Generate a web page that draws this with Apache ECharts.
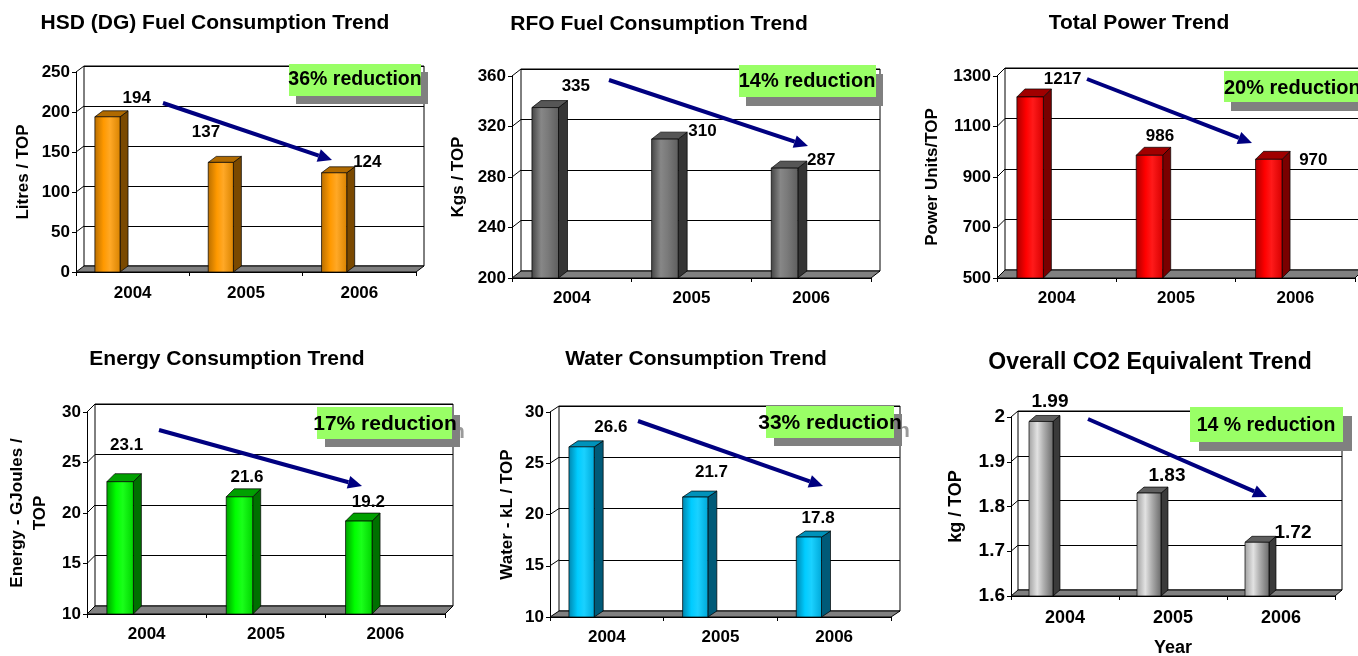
<!DOCTYPE html>
<html><head><meta charset="utf-8">
<script src="https://cdn.jsdelivr.net/npm/echarts@6/dist/echarts.min.js"></script>
<style>html,body{margin:0;padding:0;background:#fff}#c{width:1358px;height:656px}</style>
</head><body><div id="c"></div><script>
// ---------- data ----------
const years = ['2004', '2005', '2006'];
const hsdValues = [194, 137, 124];
const rfoValues = [335, 310, 287];
const powerValues = [1217, 986, 970];
const energyValues = [23.1, 21.6, 19.2];
const waterValues = [26.6, 21.7, 17.8];
const co2Values = [1.99, 1.83, 1.72];
const titles = ['HSD (DG) Fuel Consumption Trend', 'RFO Fuel Consumption Trend', 'Total Power Trend',
  'Energy Consumption Trend', 'Water Consumption Trend', 'Overall CO2 Equivalent Trend'];
const yNames = ['Litres / TOP', 'Kgs / TOP', 'Power Units/TOP', 'Energy - GJoules /\nTOP', 'Water - kL / TOP', 'kg / TOP'];
const reductions = ['36% reduction', '14% reduction', '20% reduction', '17% reduction', '33% reduction', '14 % reduction'];
const axisRanges = [[0, 250, 50], [200, 360, 40], [500, 1300, 200], [10, 30, 5], [10, 30, 5], [1.6, 2, 0.1]];
const co2XName = 'Year';

// ---------- styles / layout ----------
const FONT = '"Liberation Sans", Arial, sans-serif';
const palettes = {
  orange: { front: ['#B86E00', '#FF9900', '#FFA826', '#D98300'], side: '#7A4900', top: '#B06A00' },
  grey:   { front: ['#444444', '#878787', '#7A7A7A', '#5E5E5E'], side: '#353535', top: '#565656' },
  red:    { front: ['#A80000', '#FF0000', '#FF1A1A', '#D60000'], side: '#7A0000', top: '#A00000' },
  green:  { front: ['#009E00', '#00FF00', '#1AFF1A', '#00D400'], side: '#007000', top: '#00A000' },
  cyan:   { front: ['#0086AE', '#00CCFF', '#1AD1FF', '#00A8D8'], side: '#005A78', top: '#0092BA' },
  silver: { front: ['#A0A0A0', '#E2E2E2', '#B0B0B0', '#6A6A6A'], side: '#3A3A3A', top: '#5F5F5F' }
};

const panels = [
  { values: hsdValues, range: axisRanges[0], pal: palettes.orange, grid: [76, 72, 340, 200], depth: [8, -6],
    titlePos: [215, 13], titleSize: 21, tickSize: 17, catSize: 17, labelSize: 17, nameSize: 17, nameGap: 41, catMargin: 13,
    labelOff: [[4, -18], [-40, -30], [8, -10]],
    box: [289, 64, 132, 32], shadow: [7, 8], boxFont: 19.5, boxText: [355, 80, 'center'], arrow: [163, 103, 332, 160] },
  { values: rfoValues, range: axisRanges[1], pal: palettes.grey, grid: [512, 76, 359, 202], depth: [9, -7],
    titlePos: [659, 14], titleSize: 21, tickSize: 17, catSize: 17, labelSize: 17, nameSize: 17, nameGap: 42, catMargin: 12,
    labelOff: [[4, -21], [11, -8], [10, -8]],
    box: [739, 65, 137, 32], shadow: [7, 9], boxFont: 20, boxText: [807, 81, 'center'], arrow: [609, 80, 808, 146] },
  { values: powerValues, range: axisRanges[2], pal: palettes.red, grid: [997, 76, 358, 202], depth: [8, -8],
    titlePos: [1139, 13], titleSize: 21, tickSize: 17, catSize: 17, labelSize: 17, nameSize: 17, nameGap: 53, catMargin: 12,
    labelOff: [[6, -18], [-16, -19], [18, 1]],
    box: [1224, 71, 150, 31], shadow: [7, 9], boxFont: 20, boxText: [1224, 88, 'left'], arrow: [1087, 79, 1252, 143] },
  { values: energyValues, range: axisRanges[3], pal: palettes.green, grid: [87, 412, 358, 202], depth: [8, -8],
    titlePos: [227, 349], titleSize: 21, tickSize: 17, catSize: 17, labelSize: 17, nameSize: 17, nameGap: 35, catMargin: 12,
    labelOff: [[-20, -36], [-19, -20], [-17, -19]],
    box: [317, 407, 135, 32], shadow: [8, 8], boxFont: 21, boxText: [385, 424, 'center'], arrow: [159, 430, 362, 486] },
  { values: waterValues, range: axisRanges[4], pal: palettes.cyan, grid: [550, 412, 341, 205], depth: [9, -6],
    titlePos: [696, 349], titleSize: 21, tickSize: 17, catSize: 17, labelSize: 17, nameSize: 17, nameGap: 31, catMargin: 12,
    labelOff: [[4, -20], [-9, -25], [-16, -19]],
    box: [766, 406, 128, 32], shadow: [8, 8], boxFont: 21, boxText: [830, 423, 'center'], arrow: [638, 421, 823, 486] },
  { values: co2Values, range: axisRanges[5], pal: palettes.silver, grid: [1011, 417, 324, 179], depth: [7, -6],
    titlePos: [1150, 351], titleSize: 23, tickSize: 19, catSize: 18, labelSize: 19, nameSize: 18, nameGap: 43, catMargin: 13,
    labelOff: [[-15, -20], [-6, -17], [12, -10]], xName: co2XName,
    box: [1190, 407, 153, 35], shadow: [9, 9], boxFont: 19.5, boxText: [1266, 426, 'center'], arrow: [1088, 419, 1267, 497] }
];

const option = { animation: false, backgroundColor: '#fff', title: [], grid: [], xAxis: [], yAxis: [], series: [], graphic: [] };
const txt = (size) => ({ color: '#000', fontWeight: 'bold', fontSize: size, fontFamily: FONT });
const plainNum = (v) => String(+(+v).toFixed(6));

panels.forEach((p, pi) => {
  const [L, T, W, H] = p.grid;
  const [dx, dy] = p.depth;
  const [mn, mx, iv] = p.range;
  const gi = option.grid.length;

  option.title.push({ text: titles[pi], left: p.titlePos[0], top: p.titlePos[1], textAlign: 'center', padding: 0,
    textStyle: txt(p.titleSize) });

  // back wall grid (gridlines)
  option.grid.push({ left: L + dx, top: T + dy, width: W, height: H, show: true, borderColor: '#000', borderWidth: 1,
    backgroundColor: 'transparent', containLabel: false, outerBoundsMode: 'none' });
  option.xAxis.push({ gridIndex: gi, type: 'category', data: years, show: false });
  option.yAxis.push({ gridIndex: gi, type: 'value', min: mn, max: mx, interval: iv, axisLine: { show: false },
    axisTick: { show: false }, axisLabel: { show: false }, splitLine: { show: true, lineStyle: { color: '#000', width: 1 } } });

  // front grid (axes)
  option.grid.push({ left: L, top: T, width: W, height: H, containLabel: false, outerBoundsMode: 'none' });
  option.xAxis.push({ gridIndex: gi + 1, type: 'category', data: years, boundaryGap: true,
    axisLine: { show: true, lineStyle: { color: '#000', width: 1 } },
    axisTick: { show: true, length: 4, alignWithLabel: false, lineStyle: { color: '#000' } },
    axisLabel: Object.assign(txt(p.catSize), { margin: p.catMargin, interval: 0 }), splitLine: { show: false },
    name: p.xName || '', nameLocation: 'middle', nameGap: 43, nameTextStyle: txt(18) });
  option.yAxis.push({ gridIndex: gi + 1, type: 'value', min: mn, max: mx, interval: iv,
    axisLine: { show: true, lineStyle: { color: '#000', width: 1 } },
    axisTick: { show: true, length: 4, lineStyle: { color: '#000' } },
    axisLabel: Object.assign(txt(p.tickSize), { margin: 6, formatter: plainNum }), splitLine: { show: false },
    name: yNames[pi], nameLocation: 'middle', nameGap: p.nameGap,
    nameTextStyle: Object.assign(txt(p.nameSize), { lineHeight: 23 }) });

  // floor + side-wall edges
  option.series.push({ type: 'custom', xAxisIndex: gi + 1, yAxisIndex: gi + 1, silent: true, z: 1,
    data: [[0, mn]],
    renderItem: (params, api) => {
      const cs = params.coordSys;
      const l = cs.x, r = cs.x + cs.width, b = cs.y + cs.height;
      const children = [{ type: 'polygon', shape: { points: [[l, b], [r, b], [r + dx, b + dy], [l + dx, b + dy]] },
        style: { fill: '#808080', stroke: '#000', lineWidth: 1 } }];
      const n = Math.round((mx - mn) / iv);
      for (let k = 1; k <= n; k++) {
        const y = api.coord([0, mn + k * iv])[1];
        children.push({ type: 'line', shape: { x1: l, y1: y, x2: l + dx, y2: y + dy }, style: { stroke: '#000', lineWidth: 1 } });
      }
      return { type: 'group', children };
    } });

  // 3D bars
  const pal = p.pal;
  option.series.push({ type: 'custom', xAxisIndex: gi + 1, yAxisIndex: gi + 1, z: 3,
    data: p.values.map((v, k) => [k, v]),
    renderItem: (params, api) => {
      const k = api.value(0), v = api.value(1);
      const top = api.coord([k, v]);
      const base = api.coord([k, mn]);
      const band = api.size([1, 0])[0];
      const x0 = top[0] - band / 3, w = band * 0.222;
      const yt = top[1], yb = base[1];
      const off = p.labelOff[params.dataIndex];
      return { type: 'group', children: [
        { type: 'polygon', shape: { points: [[x0 + w, yb], [x0 + w + dx, yb + dy], [x0 + w + dx, yt + dy], [x0 + w, yt]] },
          style: { fill: pal.side, stroke: '#000', lineWidth: 0.7 } },
        { type: 'polygon', shape: { points: [[x0, yt], [x0 + dx, yt + dy], [x0 + w + dx, yt + dy], [x0 + w, yt]] },
          style: { fill: pal.top, stroke: '#000', lineWidth: 0.7 } },
        { type: 'rect', shape: { x: x0, y: yt, width: w, height: yb - yt },
          style: { fill: { type: 'linear', x: 0, y: 0, x2: 1, y2: 0, colorStops: [
            { offset: 0, color: pal.front[0] }, { offset: 0.35, color: pal.front[1] },
            { offset: 0.6, color: pal.front[2] }, { offset: 1, color: pal.front[3] }] },
            stroke: '#000', lineWidth: 0.7 } },
        { type: 'text', style: { text: String(v), x: top[0] + off[0], y: yt + off[1], align: 'center', verticalAlign: 'middle',
          textAlign: 'center', textVerticalAlign: 'middle', fill: '#000', font: 'bold ' + p.labelSize + 'px ' + FONT } }
      ] };
    } });
});

// annotations: reduction boxes and arrows
panels.forEach((p, i) => {
  const [bx, by, bw, bh] = p.box;
  const [sx, sy] = p.shadow;
  const [tx, ty, ta] = p.boxText;
  const font = 'bold ' + p.boxFont + 'px ' + FONT;
  option.graphic.push(
    { type: 'text', z: 10, style: { text: reductions[i], x: tx + sx, y: ty + sy, fill: '#9A9A9A', font,
      align: ta, textAlign: ta, verticalAlign: 'middle', textVerticalAlign: 'middle' } },
    { type: 'rect', z: 10, shape: { x: bx + sx, y: by + sy, width: bw, height: bh }, style: { fill: '#808080' } },
    { type: 'rect', z: 10, shape: { x: bx, y: by, width: bw, height: bh }, style: { fill: '#99FF66' } },
    { type: 'text', z: 10, style: { text: reductions[i], x: tx, y: ty, fill: '#000', font,
      align: ta, textAlign: ta, verticalAlign: 'middle', textVerticalAlign: 'middle' } }
  );
  const [x1, y1, x2, y2] = p.arrow;
  const ang = Math.atan2(y2 - y1, x2 - x1), c = Math.cos(ang), s = Math.sin(ang);
  const hl = 14, hw = 6.5;
  const hx = x2 - hl * c, hy = y2 - hl * s;
  option.graphic.push(
    { type: 'line', z: 10, shape: { x1, y1, x2: hx, y2: hy }, style: { stroke: '#000080', lineWidth: 4 } },
    { type: 'polygon', z: 10, shape: { points: [[x2, y2], [hx + hw * s, hy - hw * c], [hx - hw * s, hy + hw * c]] }, style: { fill: '#000080' } }
  );
});

const chart = echarts.init(document.getElementById('c'), null, { renderer: 'canvas' });
chart.setOption(option);
</script></body></html>
